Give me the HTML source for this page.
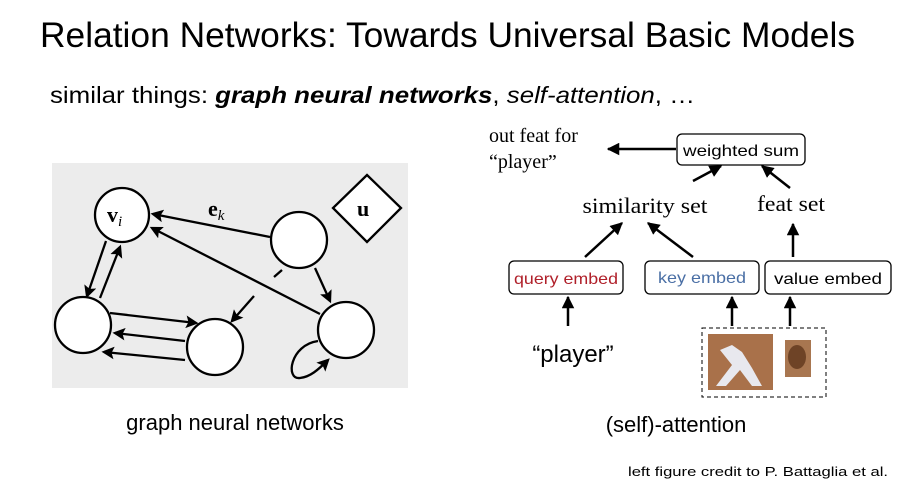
<!DOCTYPE html>
<html><head><meta charset="utf-8"><style>
html,body{margin:0;padding:0;background:#fff;width:906px;height:492px;overflow:hidden}
svg{display:block}
.s{font-family:"Liberation Sans",sans-serif}
.r{font-family:"Liberation Serif",serif}
</style></head><body>
<svg width="906" height="492" viewBox="0 0 906 492" xmlns="http://www.w3.org/2000/svg">
<defs>
<marker id="a" viewBox="0 0 10 10" refX="9" refY="5" markerWidth="5" markerHeight="5" orient="auto"><path d="M0,0 L10,5 L0,10 z" fill="#000"/></marker>
<marker id="b" viewBox="0 0 10 10" refX="8" refY="5" markerWidth="5.5" markerHeight="5.5" orient="auto"><path d="M0,0 L10,5 L0,10 L2,5 z" fill="#000"/></marker>
</defs>
<text x="40" y="47" class="s" font-size="35" fill="#000" textLength="815" lengthAdjust="spacingAndGlyphs">Relation Networks: Towards Universal Basic Models</text>
<text x="50" y="103" class="s" font-size="23" fill="#000" textLength="645" lengthAdjust="spacingAndGlyphs">similar things: <tspan font-weight="bold" font-style="italic">graph neural networks</tspan>, <tspan font-style="italic">self-attention</tspan>, …</text>

<!-- graph panel -->
<rect x="52" y="163" width="356" height="225" fill="#ececec"/>
<g stroke="#000" stroke-width="2.3" fill="none">
<line x1="270" y1="237" x2="153" y2="214" marker-end="url(#b)"/>
<line x1="320" y1="314" x2="152" y2="228" marker-end="url(#b)"/>
<line x1="106" y1="241" x2="87" y2="296" marker-end="url(#b)"/>
<line x1="100" y1="298" x2="120" y2="247" marker-end="url(#b)"/>
<line x1="110" y1="313" x2="196" y2="323" marker-end="url(#b)"/>
<line x1="185" y1="341" x2="115" y2="333" marker-end="url(#b)"/>
<line x1="185" y1="360" x2="104" y2="352" marker-end="url(#b)"/>
<line x1="315" y1="268" x2="330" y2="301" marker-end="url(#b)"/>
<line x1="274" y1="277" x2="282" y2="270"/>
<line x1="254" y1="296" x2="232" y2="321" marker-end="url(#b)"/>
<path d="M318,341 C290,345 285,380 300,378 C310,377 318,370 328,360" marker-end="url(#b)"/>
</g>
<g stroke="#000" stroke-width="2.3" fill="#fff">
<circle cx="122" cy="215" r="27"/>
<circle cx="299" cy="240" r="28"/>
<circle cx="83" cy="325" r="28"/>
<circle cx="215" cy="347" r="28"/>
<circle cx="346" cy="330" r="28"/>
<polygon points="367,175 401,208 367,242 333,208"/>
</g>
<text x="107" y="222" class="r" font-size="22" font-weight="bold">v<tspan font-size="15" font-style="italic" font-weight="normal" dy="4">i</tspan></text>
<text x="208" y="216" class="r" font-size="22" font-weight="bold">e<tspan font-size="15" font-style="italic" font-weight="normal" dy="4">k</tspan></text>
<text x="357" y="216" class="r" font-size="22" font-weight="bold">u</text>
<text x="235" y="430" class="s" font-size="22" text-anchor="middle">graph neural networks</text>

<!-- attention -->
<text x="489" y="142" class="r" font-size="20">out feat for</text>
<text x="489" y="168" class="r" font-size="20">“player”</text>
<g stroke="#000" stroke-width="2.5" fill="none">
<line x1="676" y1="149" x2="608" y2="149" marker-end="url(#a)"/>
<line x1="693" y1="181" x2="721" y2="166" marker-end="url(#a)"/>
<line x1="790" y1="188" x2="762" y2="166" marker-end="url(#a)"/>
<line x1="585" y1="257" x2="622" y2="223" marker-end="url(#a)"/>
<line x1="693" y1="257" x2="648" y2="223" marker-end="url(#a)"/>
<line x1="793" y1="257" x2="793" y2="224" marker-end="url(#a)"/>
<line x1="568" y1="326" x2="568" y2="297" marker-end="url(#a)"/>
<line x1="732" y1="326" x2="732" y2="297" marker-end="url(#a)"/>
<line x1="790" y1="326" x2="790" y2="297" marker-end="url(#a)"/>
</g>
<g stroke="#000" stroke-width="1.3" fill="#fff">
<rect x="677" y="134" width="128" height="31" rx="5"/>
<rect x="509" y="261" width="114" height="33" rx="5"/>
<rect x="645" y="261" width="114" height="33" rx="5"/>
<rect x="765" y="261" width="126" height="33" rx="5"/>
</g>
<text x="741" y="156" class="s" font-size="16" text-anchor="middle" textLength="116" lengthAdjust="spacingAndGlyphs">weighted sum</text>
<text x="566" y="284" class="s" font-size="16" text-anchor="middle" fill="#b0202a" textLength="104" lengthAdjust="spacingAndGlyphs">query embed</text>
<text x="702" y="283" class="s" font-size="16" text-anchor="middle" fill="#4a6fa5" textLength="88" lengthAdjust="spacingAndGlyphs">key embed</text>
<text x="828" y="284" class="s" font-size="16" text-anchor="middle" textLength="108" lengthAdjust="spacingAndGlyphs">value embed</text>
<text x="645" y="213" class="r" font-size="22" text-anchor="middle" textLength="125" lengthAdjust="spacingAndGlyphs">similarity set</text>
<text x="791" y="211" class="r" font-size="22" text-anchor="middle" textLength="68" lengthAdjust="spacingAndGlyphs">feat set</text>
<text x="573" y="362" class="s" font-size="24" text-anchor="middle">“player”</text>
<rect x="702" y="328" width="124" height="69" fill="none" stroke="#000" stroke-width="1" stroke-dasharray="4,3"/>
<rect x="708" y="334" width="65" height="56" fill="#a9714a"/>
<path d="M720,350 L732,345 L742,352 L752,368 L762,386 L752,386 L740,370 L726,386 L716,386 L732,365 Z" fill="#e8e8ee"/>
<rect x="785" y="340" width="26" height="37" fill="#a87650"/>
<ellipse cx="797" cy="357" rx="9" ry="12" fill="#6e4326"/>
<text x="676" y="432" class="s" font-size="22" text-anchor="middle">(self)-attention</text>
<text x="628" y="476" class="s" font-size="13" textLength="260" lengthAdjust="spacingAndGlyphs">left figure credit to P. Battaglia et al.</text>
</svg>
</body></html>
